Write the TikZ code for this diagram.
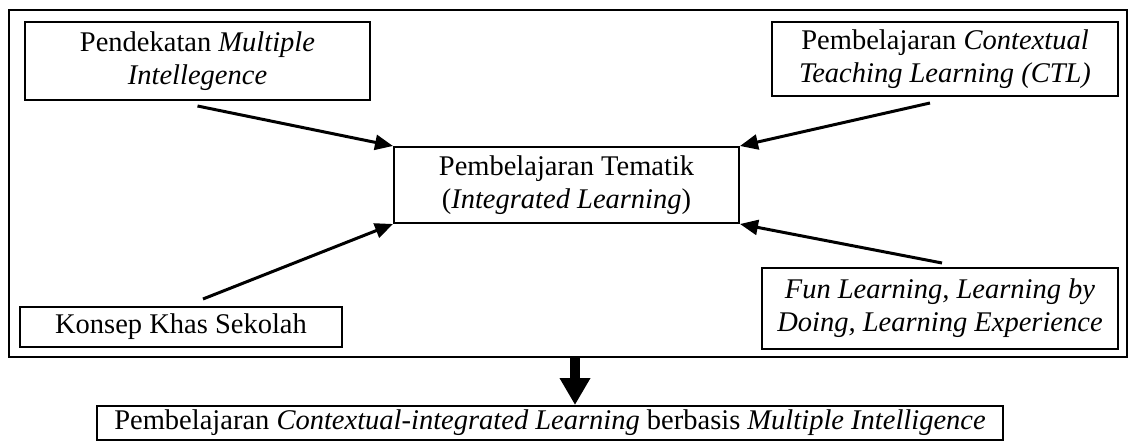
\documentclass[tikz,border=0pt]{standalone}
\usepackage{fontspec}
\setmainfont{Liberation Serif}
\usetikzlibrary{arrows.meta}
\tikzset{
  kotak/.style={draw, line width=2pt, align=center, inner sep=0pt,
    font=\fontsize{28.5}{33}\selectfont},
  panah/.style={line width=3pt, -{Triangle[length=18pt,width=15pt]}}
}
\begin{document}
\begin{tikzpicture}[x=1pt,y=-1pt]
  \useasboundingbox (0,0) rectangle (1129,443);
  \draw[line width=2.5pt] (9,10) rectangle (1127,357);

  \node[kotak, minimum width=345pt, minimum height=78pt] (mi) at (197.5,61)
    {Pendekatan \textit{Multiple}\\\textit{Intellegence}};
  \node[kotak, minimum width=346pt, minimum height=74pt] (ctl) at (945,59)
    {Pembelajaran \textit{Contextual}\\\textit{Teaching Learning (CTL)}};
  \node[kotak, minimum width=345pt, minimum height=76pt] (tema) at (566.5,185)
    {Pembelajaran Tematik\\(\textit{Integrated Learning})};
  \node[kotak, minimum width=322pt, minimum height=40pt] (konsep) at (181,327)
    {Konsep Khas Sekolah};
  \node[kotak, minimum width=356pt, minimum height=81pt] (fun) at (940,308.5)
    {\textit{Fun Learning, Learning by}\\\textit{Doing, Learning Experience}};
  \node[kotak, minimum width=906pt, minimum height=34pt] (hasil) at (550,423)
    {Pembelajaran \textit{Contextual-integrated Learning} berbasis \textit{Multiple Intelligence}};

  % panah ke pembelajaran tematik
  \draw[panah] ([yshift=-5pt]mi.south) -- (tema.north west);
  \draw[panah] ([xshift=-15pt,yshift=-6pt]ctl.south) -- (tema.north east);
  \draw[panah] ([xshift=22pt,yshift=7pt]konsep.north) -- (tema.south west);
  \draw[panah] ([xshift=2pt,yshift=4pt]fun.north) -- (tema.south east);

  \coordinate (pangkal) at (575,357);
  \draw[line width=10pt, -{Triangle[length=27pt,width=29pt]}] (pangkal) -- (pangkal |- hasil.north);
\end{tikzpicture}
\end{document}
